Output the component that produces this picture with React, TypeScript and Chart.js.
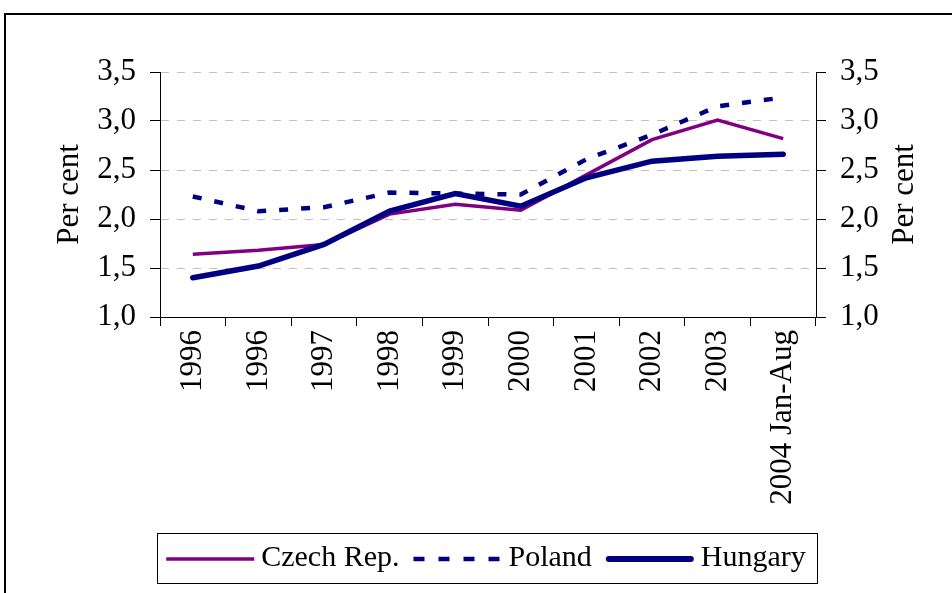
import React, { useEffect, useRef } from 'react';
import { Chart, registerables } from 'chart.js';

Chart.register(...registerables);

const categories = ['1996', '1996', '1997', '1998', '1999', '2000', '2001', '2002', '2003', '2004 Jan-Aug'];
const czech = [1.64, 1.68, 1.74, 2.05, 2.15, 2.09, 2.45, 2.81, 3.01, 2.82];
const poland = [2.23, 2.08, 2.12, 2.27, 2.26, 2.25, 2.61, 2.86, 3.15, 3.24];
const hungary = [1.4, 1.52, 1.74, 2.08, 2.26, 2.13, 2.42, 2.59, 2.64, 2.66];
const yMin = 1.0;
const yMax = 3.5;
const yStep = 0.5;
const axisTitle = 'Per cent';

const FONT = "'Liberation Serif', 'Times New Roman', serif";
const FS = 30;
const TFS = 31;

const fmt = (v: number | string) => Number(v).toFixed(1).replace('.', ',');

const legendSamples: Record<number, { color: string; width: number; dash: number[]; cap: CanvasLineCap }> = {
  0: { color: '#800080', width: 3.5, dash: [], cap: 'butt' },
  1: { color: '#000080', width: 4.5, dash: [11, 14], cap: 'butt' },
  2: { color: '#000080', width: 6, dash: [], cap: 'round' },
};

const decor = {
  id: 'decor',
  beforeDraw(chart: any) {
    const ctx = chart.ctx;
    ctx.save();
    ctx.fillStyle = '#fff';
    ctx.fillRect(0, 0, chart.width, chart.height);
    ctx.strokeStyle = '#000';
    ctx.lineWidth = 2;
    ctx.strokeRect(5, 14, chart.width + 40, chart.height + 40);
    ctx.restore();
  },
  afterDraw(chart: any) {
    const ctx = chart.ctx;
    const lg = chart.legend;
    ctx.save();
    if (lg && lg.legendHitBoxes && lg.legendHitBoxes.length) {
      const hb = lg.legendHitBoxes;
      let l = Infinity, r = -Infinity, t = Infinity, b = -Infinity;
      hb.forEach((h: any, i: number) => {
        l = Math.min(l, h.left);
        r = Math.max(r, h.left + h.width);
        t = Math.min(t, h.top);
        b = Math.max(b, h.top + h.height);
        const item = lg.legendItems[i];
        const s = legendSamples[item.datasetIndex];
        if (s) {
          ctx.save();
          ctx.strokeStyle = s.color;
          ctx.lineWidth = s.width;
          ctx.lineCap = s.cap;
          ctx.setLineDash(s.dash);
          const cy = h.top + h.height / 2 + 1;
          const x0 = h.left + (s.cap === 'round' ? s.width / 2 : 0);
          const x1 = h.left + 88 - (s.cap === 'round' ? s.width / 2 : 0);
          ctx.beginPath();
          ctx.moveTo(x0, cy);
          ctx.lineTo(x1, cy);
          ctx.stroke();
          ctx.restore();
        }
      });
      ctx.strokeStyle = '#000';
      ctx.lineWidth = 1;
      ctx.strokeRect(Math.round(l - 9) + 0.5, Math.round(t - 10) + 0.5, Math.round(r - l + 20), Math.round(b - t + 20));
    }
    const y1 = chart.scales.y1;
    const ca = chart.chartArea;
    ctx.translate(y1.right - 47, (ca.top + ca.bottom) / 2);
    ctx.rotate(-Math.PI / 2);
    ctx.fillStyle = '#000';
    ctx.font = `${TFS}px ${FONT}`;
    ctx.textAlign = 'center';
    ctx.textBaseline = 'middle';
    ctx.fillText(axisTitle, 0, 0);
    ctx.restore();
  },
};

export default function App() {
  const ref = useRef<HTMLCanvasElement | null>(null);

  useEffect(() => {
    if (!ref.current) return;
    const tickFont = { family: FONT, size: TFS };
    const chart = new Chart(ref.current, {
      type: 'line',
      data: {
        labels: categories,
        datasets: [
          {
            label: 'Czech Rep.',
            data: czech,
            borderColor: '#800080',
            backgroundColor: '#800080',
            borderWidth: 3.5,
            pointRadius: 0,
            tension: 0,
            order: 3,
          },
          {
            label: 'Poland',
            data: poland,
            borderColor: '#000080',
            backgroundColor: '#000080',
            borderWidth: 4.5,
            borderDash: [9, 13],
            pointRadius: 0,
            tension: 0,
            order: 1,
          },
          {
            label: 'Hungary',
            data: hungary,
            borderColor: '#000080',
            backgroundColor: '#000080',
            borderWidth: 5.5,
            borderCapStyle: 'round',
            pointRadius: 0,
            tension: 0,
            order: 2,
          },
        ],
      },
      options: {
        responsive: false,
        animation: false,
        layout: { padding: { top: 72, left: 20, right: 0, bottom: 10 } },
        plugins: {
          tooltip: { enabled: false },
          title: { display: false },
          legend: {
            position: 'bottom',
            labels: {
              boxWidth: 80,
              boxHeight: 0,
              padding: 14,
              color: '#000',
              font: { family: FONT, size: FS },
              generateLabels: (c: any) => {
                const items = (Chart as any).defaults.plugins.legend.labels.generateLabels(c);
                return items
                  .sort((a: any, b: any) => a.datasetIndex - b.datasetIndex)
                  .map((it: any) => ({
                    ...it,
                    fillStyle: 'rgba(0,0,0,0)',
                    strokeStyle: 'rgba(0,0,0,0)',
                    lineWidth: 0,
                  }));
              },
            },
          },
        },
        scales: {
          x: {
            type: 'category',
            offset: true,
            grid: {
              offset: true,
              drawOnChartArea: false,
              drawTicks: true,
              tickLength: 9,
              color: '#000',
              tickColor: '#000',
            },
            border: { display: true, color: '#000', width: 1 },
            ticks: {
              autoSkip: false,
              maxRotation: 90,
              minRotation: 90,
              padding: 4,
              color: '#000',
              font: tickFont,
            },
            afterFit: (s: any) => {
              s.height = 212;
            },
          },
          y: {
            position: 'left',
            min: yMin,
            max: yMax,
            ticks: { stepSize: yStep, callback: (v: any) => fmt(v), color: '#000', font: tickFont, padding: 14 },
            grid: {
              color: (c: any) => (c.tick && c.tick.value === yMin ? 'rgba(0,0,0,0)' : '#c0c0c0'),
              tickColor: '#000',
              tickLength: 10,
              tickBorderDash: [],
              drawTicks: true,
            },
            border: { display: true, color: '#000', width: 1, dash: [8, 8] },
            title: {
              display: true,
              text: axisTitle,
              color: '#000',
              font: { family: FONT, size: TFS, lineHeight: 1.2 },
              padding: { top: 31, bottom: 0 },
            },
            afterFit: (s: any) => {
              s.width = 140;
            },
          },
          y1: {
            position: 'right',
            min: yMin,
            max: yMax,
            ticks: { stepSize: yStep, callback: (v: any) => fmt(v), color: '#000', font: tickFont, padding: 14 },
            grid: {
              drawOnChartArea: false,
              color: '#000',
              tickColor: '#000',
              tickLength: 10,
            },
            border: { display: true, color: '#000', width: 1 },
            afterFit: (s: any) => {
              s.width = 136;
            },
          },
        },
      },
      plugins: [decor],
    } as any);
    return () => chart.destroy();
  }, []);

  return (
    <div style={{ position: 'fixed', left: 0, top: 0, width: 952, height: 593, background: '#fff' }}>
      <canvas ref={ref} width={952} height={593} style={{ display: 'block', width: 952, height: 593 }} />
    </div>
  );
}
